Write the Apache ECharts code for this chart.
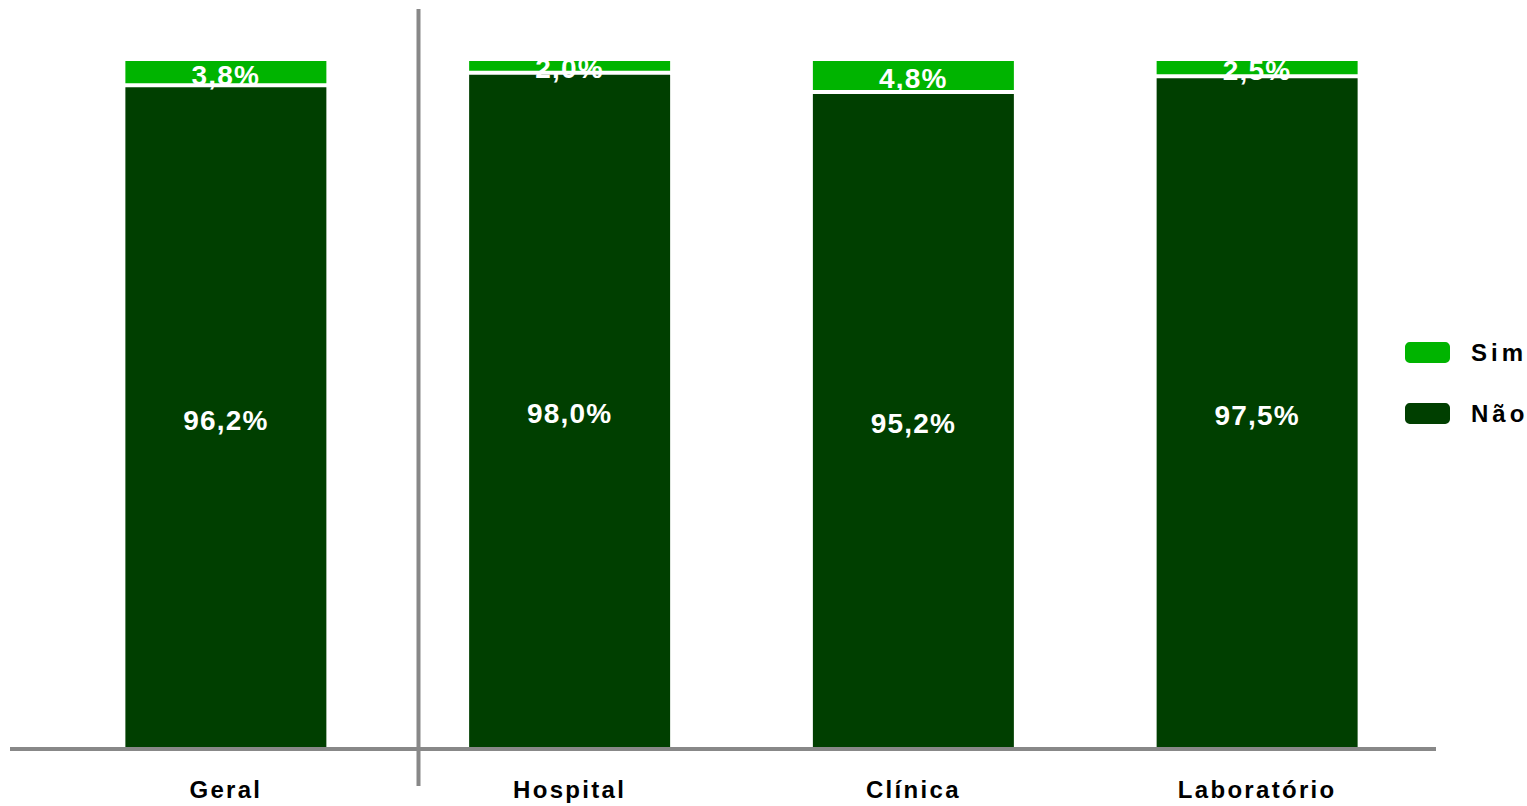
<!DOCTYPE html>
<html>
<head>
<meta charset="utf-8">
<script src="https://cdn.jsdelivr.net/npm/echarts@6/dist/echarts.min.js"></script>
<style>
  html, body { margin: 0; padding: 0; background: #fff; }
  #chart { width: 1527px; height: 806px; }
</style>
</head>
<body>
<div id="chart"></div>
<script>
// Share of answers per segment (percent)
const categories = ['Geral', 'Hospital', 'Clínica', 'Laboratório'];
const simValues = [3.8, 2.0, 4.8, 2.5];
const naoValues = [96.2, 98.0, 95.2, 97.5];

const SIM_COLOR = '#00b400';
const NAO_COLOR = '#003f00';
const AXIS_GRAY = '#888888';
const FONT = "'Liberation Sans', Arial, sans-serif";

const fmt = p => p.value.toFixed(1).replace('.', ',') + '%';

const chart = echarts.init(document.getElementById('chart'), null, { renderer: 'svg' });

const barLabel = {
  show: true,
  position: 'inside',
  offset: [0, 3],
  color: '#ffffff',
  fontFamily: FONT,
  fontWeight: 'bold',
  fontSize: 28,
  formatter: fmt
};

chart.setOption({
  animation: false,
  backgroundColor: '#ffffff',
  grid: { left: 54, right: 98, top: 59, bottom: 57 },
  legend: {
    data: ['Sim', 'Não'],
    orient: 'vertical',
    left: 1403,
    top: 340,
    padding: 0,
    itemWidth: 47,
    itemHeight: 23,
    itemGap: 36,
    icon: 'roundRect',
    textStyle: {
      color: '#000000',
      fontFamily: FONT,
      fontWeight: 'bold',
      fontSize: 24,
      padding: [0, 0, 0, 15]
    }
  },
  xAxis: {
    type: 'category',
    data: categories,
    axisLine: { show: false },
    axisTick: { show: false },
    axisLabel: {
      margin: 28,
      color: '#000000',
      fontFamily: FONT,
      fontWeight: 'bold',
      fontSize: 24
    }
  },
  yAxis: {
    type: 'value',
    min: 0,
    max: 100,
    show: false
  },
  series: [
    {
      name: 'Não',
      type: 'bar',
      stack: 'total',
      barWidth: 205,
      data: naoValues,
      itemStyle: { color: NAO_COLOR, borderColor: '#ffffff', borderWidth: 2 },
      label: barLabel
    },
    {
      name: 'Sim',
      type: 'bar',
      stack: 'total',
      barWidth: 205,
      data: simValues,
      itemStyle: { color: SIM_COLOR, borderColor: '#ffffff', borderWidth: 2 },
      label: barLabel
    }
  ],
  graphic: [
    // baseline running across the plot
    {
      type: 'line',
      z: 10,
      shape: { x1: 10, y1: 749, x2: 1436, y2: 749 },
      style: { stroke: AXIS_GRAY, lineWidth: 4 }
    },
    // divider between the overall bar and the segments
    {
      type: 'line',
      z: 10,
      shape: { x1: 418.5, y1: 9, x2: 418.5, y2: 786 },
      style: { stroke: AXIS_GRAY, lineWidth: 4 }
    }
  ]
});

// Loose tracking on the bold labels
function applyTracking() {
  document.querySelectorAll('#chart svg text').forEach(t => {
    const txt = t.textContent.trim();
    let ls = '2.3px';
    if (txt === 'Sim' || txt === 'Não') ls = '4px';
    else if (txt.indexOf('%') >= 0) ls = '1.2px';
    t.style.letterSpacing = ls;
  });
}
chart.on('finished', applyTracking);
applyTracking();
</script>
</body>
</html>
